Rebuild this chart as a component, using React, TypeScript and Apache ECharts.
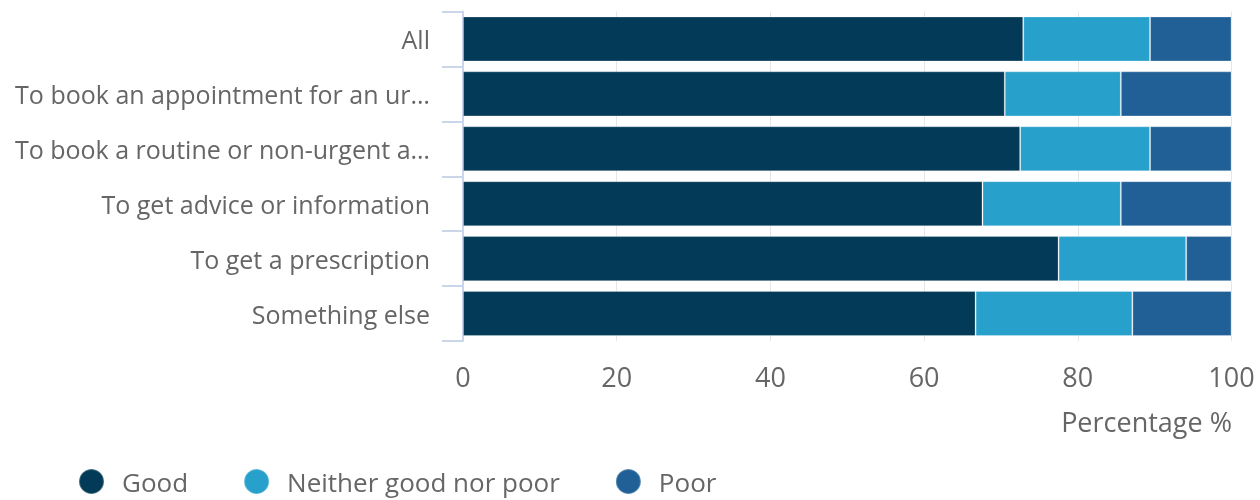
import React, { useEffect, useRef } from "react";
import * as echarts from "echarts";

const categories = [
  "All",
  "To book an appointment for an urgent need",
  "To book a routine or non-urgent appointment",
  "To get advice or information",
  "To get a prescription",
  "Something else",
];
const goodValues = [72.9, 70.5, 72.5, 67.6, 77.5, 66.7];
const neitherValues = [16.5, 15.1, 16.9, 18.0, 16.6, 20.4];
const poorValues = [10.6, 14.4, 10.6, 14.4, 5.9, 12.9];
const seriesNames = ["Good", "Neither good nor poor", "Poor"];
const colors = ["#033a57", "#27a0cb", "#216096"];
const xTicks = [0, 20, 40, 60, 80, 100];

const FONT = "'Open Sans', 'Noto Sans', sans-serif";

export default function App() {
  const ref = useRef<HTMLDivElement>(null);
  useEffect(() => {
    if (!ref.current) return;
    const chart = echarts.init(ref.current, undefined, { renderer: "svg" });
    const data = [goodValues, neitherValues, poorValues];
    chart.setOption({
      animation: false,
      textStyle: { fontFamily: FONT },
      grid: { left: 463, right: 28.5, top: 11.5, bottom: 159, containLabel: false },
      xAxis: {
        type: "value",
        min: xTicks[0],
        max: xTicks[xTicks.length - 1],
        interval: 20,
        axisLine: { show: false },
        axisTick: { show: false },
        splitLine: { lineStyle: { color: "#e6e6e6", width: 1 } },
        axisLabel: { color: "#666666", fontSize: 27, margin: 22, fontFamily: FONT },
      },
      yAxis: {
        type: "category",
        data: categories,
        inverse: true,
        axisLine: { show: true, lineStyle: { color: "#ccd6eb", width: 2 } },
        axisTick: { show: true, length: 21, lineStyle: { color: "#ccd6eb", width: 2 } },
        axisLabel: {
          color: "#666666",
          fontSize: 25,
          margin: 33,
          fontFamily: FONT,
          width: 424,
          overflow: "truncate",
          ellipsis: "…",
        },
      },
      legend: {
        left: 73,
        top: 463,
        icon: "circle",
        itemWidth: 25,
        itemHeight: 25,
        itemGap: 55,
        textStyle: { color: "#666666", fontSize: 26, fontFamily: FONT, padding: [0, 0, 0, 13] },
        data: seriesNames,
      },
      graphic: [
        {
          type: "text",
          right: 28,
          top: 408,
          style: {
            text: "Percentage %",
            fill: "#666666",
            fontSize: 27,
            fontFamily: FONT,
          },
        },
      ],
      series: seriesNames.map((name, i) => ({
        name,
        type: "bar",
        stack: "total",
        data: data[i],
        barCategoryGap: "18%",
        itemStyle: {
          color: colors[i],
          borderColor: "rgba(255,255,255,0.25)",
          borderWidth: 1,
        },
      })),
    });
    return () => chart.dispose();
  }, []);
  return (
    <div
      ref={ref}
      style={{ position: "fixed", left: 0, top: 0, width: 1260, height: 500 }}
    />
  );
}
